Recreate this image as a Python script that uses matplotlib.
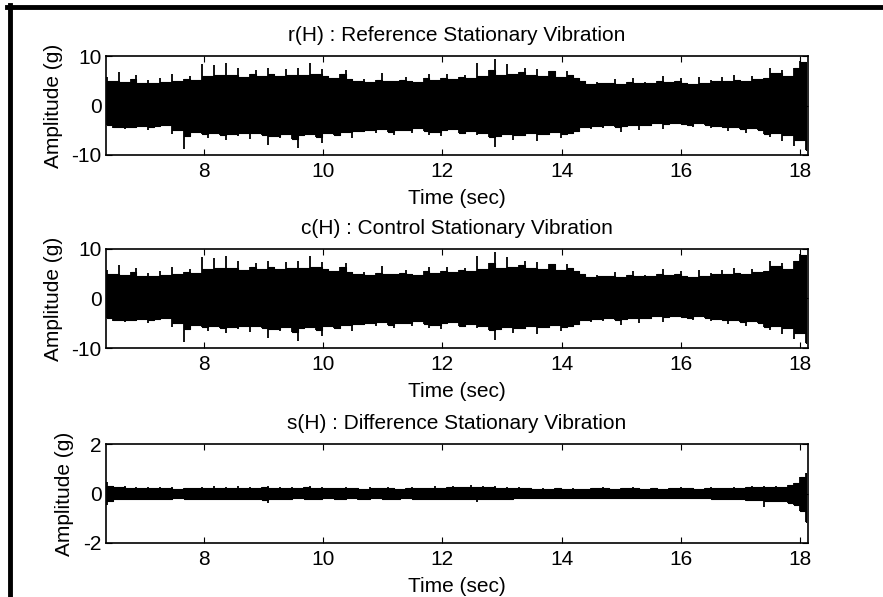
import numpy as np
import matplotlib
matplotlib.use("Agg")
import matplotlib.pyplot as plt
from matplotlib.lines import Line2D

plt.rcParams['font.family'] = ['Liberation Sans', 'DejaVu Sans']
plt.rcParams['axes.unicode_minus'] = False

# envelope of each signal, read every 0.1 s from 6.4 s to 18.1 s
r_upper = [5.8, 4.9, 6.7, 4.7, 5.3, 6.2, 4.6, 5.1, 4.5, 5.6,
           4.8, 6.3, 5.0, 5.4, 5.9, 5.2, 8.3, 6.0, 8.2, 6.1,
           8.5, 6.2, 7.6, 5.8, 6.4, 7.2, 5.9, 7.6, 6.3, 6.0,
           7.4, 6.1, 7.5, 6.2, 8.6, 6.4, 7.3, 6.0, 5.6, 6.3,
           7.1, 5.4, 5.0, 5.3, 4.8, 5.2, 6.6, 5.0, 4.9, 5.1,
           5.8, 5.0, 4.8, 5.6, 6.3, 5.2, 5.5, 6.4, 5.3, 5.7,
           6.2, 5.6, 8.6, 6.0, 7.2, 9.4, 6.1, 8.3, 6.3, 6.8,
           7.6, 6.1, 7.3, 6.0, 6.9, 7.0, 5.8, 6.9, 6.2, 5.6,
           5.0, 4.4, 4.8, 4.6, 4.5, 5.3, 4.4, 4.7, 5.6, 4.5,
           4.8, 4.5, 5.0, 6.0, 4.7, 4.9, 5.5, 4.6, 4.4, 5.7,
           4.6, 5.2, 4.9, 5.8, 5.0, 6.2, 5.1, 5.0, 5.9, 5.3,
           5.6, 7.6, 6.6, 7.2, 6.0, 7.5, 9.0, 8.8]
r_lower = [-4.0, -4.6, -4.3, -4.8, -4.4, -4.5, -4.2, -4.9, -4.3, -4.1,
           -4.0, -5.8, -5.0, -8.8, -6.2, -5.4, -5.8, -6.6, -5.5, -6.0,
           -7.0, -5.7, -6.2, -5.5, -6.8, -5.6, -5.9, -8.0, -6.1, -6.5,
           -5.8, -6.7, -8.5, -6.0, -5.7, -6.3, -7.6, -5.6, -6.0, -5.9,
           -5.4, -6.5, -5.1, -5.3, -5.0, -5.6, -4.8, -5.3, -5.9, -5.0,
           -4.9, -5.5, -4.6, -5.2, -6.0, -5.4, -6.1, -5.0, -4.8, -5.5,
           -5.8, -5.2, -6.0, -5.6, -6.4, -8.3, -6.2, -5.8, -7.0, -5.9,
           -6.1, -5.6, -7.2, -5.8, -6.0, -5.4, -6.5, -5.7, -5.5, -5.1,
           -4.4, -4.8, -4.2, -4.6, -4.0, -4.3, -5.4, -4.1, -4.0, -4.9,
           -3.9, -4.2, -3.6, -4.8, -3.8, -3.5, -3.7, -4.0, -4.4, -3.6,
           -3.9, -4.6, -4.1, -4.4, -5.2, -4.3, -4.7, -5.6, -4.5, -5.0,
           -5.8, -6.4, -5.6, -7.2, -6.0, -8.1, -7.0, -9.0]

# control looks the same as the reference at this scale
c_upper = list(r_upper)
c_lower = list(r_lower)

s_upper = [0.48, 0.32, 0.26, 0.30, 0.22, 0.28, 0.24, 0.27, 0.21, 0.25,
           0.22, 0.26, 0.20, 0.24, 0.21, 0.23, 0.28, 0.22, 0.30, 0.24,
           0.26, 0.22, 0.31, 0.24, 0.27, 0.22, 0.25, 0.30, 0.23, 0.26,
           0.24, 0.28, 0.22, 0.25, 0.29, 0.23, 0.26, 0.21, 0.24, 0.22,
           0.25, 0.21, 0.24, 0.20, 0.28, 0.23, 0.21, 0.26, 0.22, 0.20,
           0.23, 0.27, 0.21, 0.24, 0.22, 0.29, 0.24, 0.26, 0.30, 0.25,
           0.28, 0.33, 0.27, 0.30, 0.25, 0.29, 0.24, 0.27, 0.22, 0.25,
           0.21, 0.24, 0.19, 0.22, 0.20, 0.21, 0.23, 0.19, 0.22, 0.20,
           0.19, 0.23, 0.21, 0.26, 0.22, 0.20, 0.24, 0.21, 0.25, 0.22,
           0.20, 0.24, 0.21, 0.19, 0.23, 0.22, 0.26, 0.21, 0.24, 0.20,
           0.22, 0.25, 0.21, 0.24, 0.22, 0.26, 0.23, 0.28, 0.30, 0.27,
           0.32, 0.26, 0.30, 0.28, 0.35, 0.42, 0.66, 0.83]
s_lower = [-0.46, -0.30, -0.24, -0.28, -0.22, -0.26, -0.23, -0.25, -0.21, -0.24,
           -0.22, -0.25, -0.20, -0.23, -0.21, -0.24, -0.27, -0.22, -0.26, -0.23,
           -0.25, -0.22, -0.24, -0.21, -0.26, -0.23, -0.25, -0.40, -0.24, -0.22,
           -0.21, -0.24, -0.20, -0.23, -0.21, -0.25, -0.22, -0.20, -0.24, -0.21,
           -0.23, -0.20, -0.26, -0.22, -0.24, -0.20, -0.23, -0.21, -0.25, -0.22,
           -0.20, -0.23, -0.21, -0.25, -0.22, -0.24, -0.21, -0.26, -0.23, -0.22,
           -0.24, -0.21, -0.36, -0.23, -0.26, -0.22, -0.25, -0.21, -0.24, -0.20,
           -0.22, -0.19, -0.21, -0.18, -0.20, -0.19, -0.21, -0.18, -0.20, -0.19,
           -0.18, -0.21, -0.19, -0.22, -0.20, -0.18, -0.21, -0.19, -0.22, -0.20,
           -0.19, -0.22, -0.20, -0.18, -0.21, -0.20, -0.23, -0.19, -0.21, -0.18,
           -0.20, -0.22, -0.21, -0.24, -0.22, -0.25, -0.23, -0.30, -0.26, -0.28,
           -0.55, -0.30, -0.34, -0.32, -0.38, -0.48, -0.70, -1.14]

titles = ["r(H) : Reference Stationary Vibration",
          "c(H) : Control Stationary Vibration",
          "s(H) : Difference Stationary Vibration"]
y_limits = [10, 10, 2]
x_ticks = [8, 10, 12, 14, 16, 18]

t = np.linspace(6.37, 18.10, len(r_upper))


def core(v, fn):
    # dense part of the band: the smaller of two neighbouring peaks
    v = np.asarray(v)
    return fn(v, np.append(v[1:], v[-1]))


W, H = 883, 597
fig = plt.figure(figsize=(W / 100, H / 100), dpi=100)
fs = 15

tops = [56, 249, 444]
series = [(r_upper, r_lower), (c_upper, c_lower), (s_upper, s_lower)]
for top, (up, lo), title, lim in zip(tops, series, titles, y_limits):
    ax = fig.add_axes([106 / W, 1 - (top + 99) / H, 702 / W, 99 / H])
    ax.fill_between(t, core(lo, np.maximum), core(up, np.minimum),
                    step='post', color='black', lw=0.8)
    ax.vlines(t, lo, up, color='black', lw=1.3)
    ax.set_xlim(6.36, 18.13)
    ax.set_ylim(-lim, lim)
    ax.set_xticks(x_ticks)
    ax.set_yticks([-lim, 0, lim])
    ax.tick_params(direction='in', top=True, right=True, length=4,
                   width=0.8, labelsize=fs, pad=5)
    ax.tick_params(axis='y', pad=3)
    for sp in ax.spines.values():
        sp.set_linewidth(1.2)
    ax.set_title(title, fontsize=fs, pad=11)
    ax.set_xlabel("Time (sec)", fontsize=fs, labelpad=6)
    ax.set_ylabel("Amplitude (g)", fontsize=fs, labelpad=6.5)

# black frame remnants on the top and left edges of the screenshot
fig.add_artist(Line2D([7 / W, 1], [1 - 7 / H, 1 - 7 / H], color='black', lw=3.5))
fig.add_artist(Line2D([9.5 / W, 9.5 / W], [0, 1 - 5 / H], color='black', lw=3.5))

fig.savefig("out.png", dpi=100)
